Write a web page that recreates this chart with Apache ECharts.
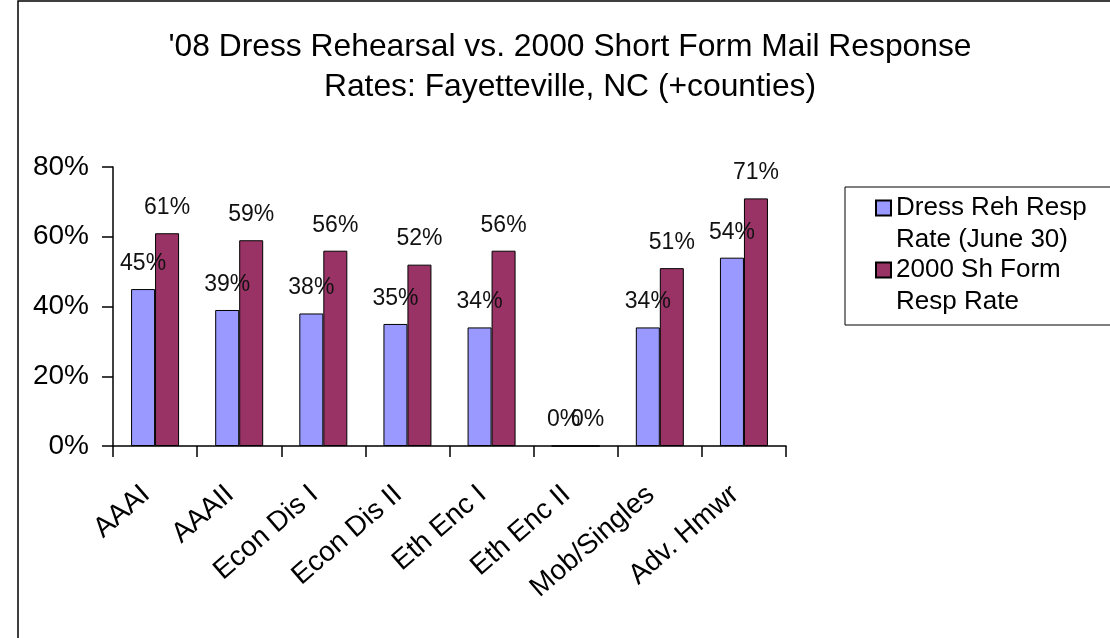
<!DOCTYPE html>
<html>
<head>
<meta charset="utf-8">
<script src="https://cdn.jsdelivr.net/npm/echarts@6/dist/echarts.min.js"></script>
<style>
  html, body { margin: 0; padding: 0; background: #fff; }
  #chart { width: 1110px; height: 638px; }
</style>
</head>
<body>
<div id="chart"></div>
<script>
// chart data
const categories = ['AAAI', 'AAAII', 'Econ Dis I', 'Econ Dis II', 'Eth Enc I', 'Eth Enc II', 'Mob/Singles', 'Adv. Hmwr'];
const dressRehRate = [45, 39, 38, 35, 34, 0, 34, 54];
const shortForm2000 = [61, 59, 56, 52, 56, 0, 51, 71];
const yTicks = [0, 20, 40, 60, 80];
const seriesNames = ['Dress Reh Resp\nRate (June 30)', '2000 Sh Form\nResp Rate'];

const FONT = 'Liberation Sans, Arial, sans-serif';

// square swatch sitting on the first text line of a two-line legend entry
const LEGEND_ICON = 'path://M0,-0.5667L0,-0.5667M0,0L1,0L1,1L0,1ZM0,3.7L0,3.7';

function drawChart() {
    let chart = echarts.init(document.getElementById('chart'), null, { renderer: 'canvas' });

    let labelStyle = {
        show: true,
        position: 'top',
        distance: 14,
        formatter: '{c}%',
        color: '#111',
        fontFamily: FONT,
        fontSize: 23
    };

    let option = {
        animation: false,
        backgroundColor: '#fff',
        title: {
            text: "'08 Dress Rehearsal vs. 2000 Short Form Mail Response\nRates: Fayetteville, NC (+counties)",
            left: 565,
            top: 22,
            textAlign: 'center',
            textStyle: {
                fontFamily: FONT,
                fontSize: 31.8,
                fontWeight: 'normal',
                color: '#000',
                lineHeight: 40
            }
        },
        legend: {
            orient: 'vertical',
            left: 845,
            top: 187,
            padding: [4, 45, 6, 30],
            itemWidth: 15,
            itemHeight: 64,
            itemGap: -4,
            itemTextGap: 8,
            borderColor: '#000',
            borderWidth: 1,
            icon: LEGEND_ICON,
            textStyle: { fontFamily: FONT, fontSize: 26, color: '#000', lineHeight: 32 },
            data: seriesNames
        },
        grid: { left: 113, right: 324, top: 167, bottom: 192, containLabel: false },
        xAxis: {
            type: 'category',
            data: categories,
            axisLine: { lineStyle: { color: '#000', width: 1.5 } },
            axisTick: { show: true, length: 11, lineStyle: { color: '#000', width: 1.5 } },
            axisLabel: {
                rotate: 41,
                interval: 0,
                margin: 37,
                padding: [0, 12, 0, 0],
                fontFamily: FONT,
                fontSize: 28,
                color: '#000'
            }
        },
        yAxis: {
            type: 'value',
            min: yTicks[0],
            max: yTicks[yTicks.length - 1],
            interval: 20,
            axisLine: { show: true, lineStyle: { color: '#000', width: 1.5 } },
            axisTick: { show: true, length: 11, lineStyle: { color: '#000', width: 1.5 } },
            splitLine: { show: false },
            axisLabel: {
                formatter: '{value}%',
                margin: 24,
                fontFamily: FONT,
                fontSize: 28,
                color: '#000'
            }
        },
        series: [
            {
                name: seriesNames[0],
                type: 'bar',
                data: dressRehRate,
                barWidth: 24,
                barGap: '0%',
                itemStyle: { color: '#9999FF', borderColor: '#000', borderWidth: 1 },
                label: labelStyle
            },
            {
                name: seriesNames[1],
                type: 'bar',
                data: shortForm2000,
                barWidth: 24,
                itemStyle: { color: '#993366', borderColor: '#000', borderWidth: 1 },
                label: labelStyle
            }
        ],
        graphic: [
            {
                type: 'rect',
                shape: { x: 18, y: 1, width: 1120, height: 660 },
                style: { fill: 'none', stroke: '#000', lineWidth: 1.5 },
                silent: true
            }
        ]
    };

    chart.setOption(option);
    window.addEventListener('resize', function () {
        chart.resize();
    });
}

drawChart();
</script>
</body>
</html>
